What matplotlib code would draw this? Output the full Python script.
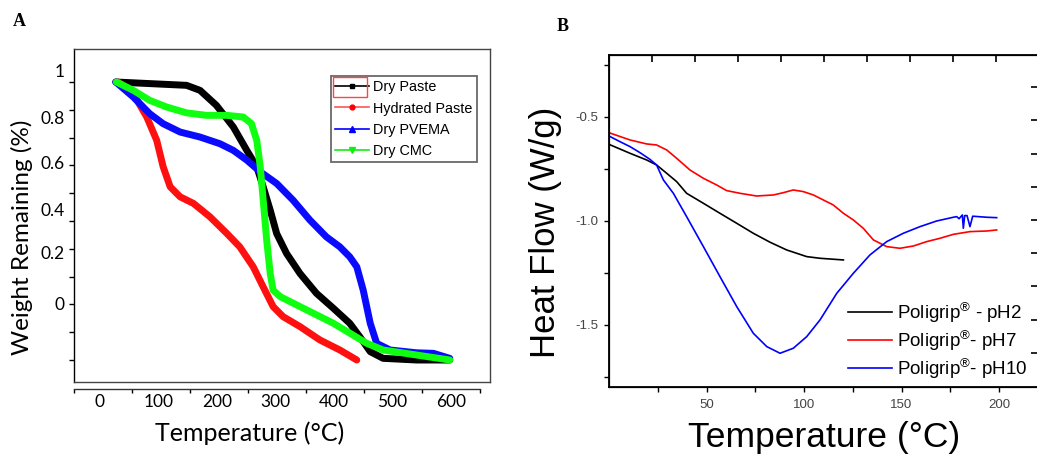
import numpy as np
import matplotlib
matplotlib.use("Agg")
import matplotlib.pyplot as plt
from matplotlib.patches import Rectangle
from matplotlib.lines import Line2D

plt.rcParams['mathtext.fontset'] = 'custom'
plt.rcParams['mathtext.rm'] = 'Liberation Sans'
plt.rcParams['mathtext.it'] = 'Liberation Sans'

# ---------------- Panel A: TGA ----------------
dry_paste_t = [27, 148, 171, 199, 228, 251, 268, 279, 291, 302, 319, 342, 370, 399, 427, 444, 462, 484, 541, 598]
dry_paste_w = [1.0, 0.988, 0.97, 0.916, 0.838, 0.754, 0.695, 0.623, 0.539, 0.455, 0.383, 0.311, 0.240, 0.186,
               0.132, 0.084, 0.030, 0.006, 0.0, 0.0]

hydrated_t = [31, 57, 80, 97, 108, 120, 137, 160, 188, 217, 239, 262, 279, 296, 313, 342, 376, 410, 439]
hydrated_w = [1.0, 0.958, 0.874, 0.79, 0.695, 0.623, 0.587, 0.563, 0.515, 0.455, 0.407, 0.335, 0.263, 0.192,
              0.156, 0.120, 0.072, 0.036, 0.0]

pvema_t = [27, 57, 85, 108, 137, 171, 205, 228, 251, 274, 302, 330, 359, 387, 410, 427, 439, 450, 462, 473,
           496, 541, 570, 598]
pvema_w = [1.0, 0.946, 0.886, 0.85, 0.82, 0.802, 0.778, 0.754, 0.719, 0.677, 0.635, 0.575, 0.503, 0.443,
           0.407, 0.371, 0.335, 0.251, 0.132, 0.06, 0.036, 0.026, 0.024, 0.006]

cmc_t = [28, 57, 85, 114, 148, 182, 217, 245, 259, 268, 274, 279, 285, 291, 296, 308, 342, 399, 456, 484, 541, 598]
cmc_w = [1.0, 0.97, 0.934, 0.91, 0.889, 0.880, 0.880, 0.874, 0.850, 0.790, 0.695, 0.575, 0.431, 0.311, 0.251,
         0.228, 0.192, 0.132, 0.06, 0.036, 0.018, 0.0]

a_legend = ['Dry Paste', 'Hydrated Paste', 'Dry PVEMA', 'Dry CMC']
a_ytick_labels = ['1', '0.8', '0.6', '0.4', '0.2', '0']
a_ytick_pos = [1.043, 0.874, 0.709, 0.540, 0.385, 0.205]
a_xtick_labels = ['0', '100', '200', '300', '400', '500', '600']

# ---------------- Panel B: DSC ----------------
ph2_t = [0, 10.8, 19.3, 24.4, 29.6, 34.7, 39.8, 48.4, 56.9, 65.5, 74, 82.6, 91.1, 101.4, 108.2, 120.2]
ph2_hf = [-0.633, -0.676, -0.708, -0.732, -0.772, -0.812, -0.868, -0.916, -0.964, -1.012, -1.06, -1.103,
          -1.14, -1.172, -1.18, -1.188]

ph7_t = [0, 10.8, 19.3, 24.4, 29.6, 34.7, 41.5, 48.4, 55.2, 60.3, 67.2, 75.7, 84.3, 89.4, 94.5, 99.7, 104.8,
         109.9, 115, 120.2, 125.3, 130.4, 135.6, 142.4, 149.2, 156.1, 162.9, 169.7, 176.6, 185.1, 193.7, 198.8]
ph7_hf = [-0.577, -0.612, -0.631, -0.636, -0.66, -0.7, -0.756, -0.796, -0.828, -0.855, -0.868, -0.881, -0.876,
          -0.865, -0.852, -0.86, -0.876, -0.9, -0.924, -0.964, -0.996, -1.036, -1.092, -1.124, -1.132, -1.121,
          -1.1, -1.084, -1.065, -1.052, -1.049, -1.044]

ph10_t = [0, 5.6, 10.8, 15.9, 21, 24.4, 27.9, 33, 39.8, 48.4, 56.9, 65.5, 74, 80.9, 87.7, 94.5, 101.4, 108.2,
          116.8, 125.3, 133.8, 142.4, 150.9, 159.5, 168, 176.6, 178.3, 179.5, 181.2, 181.7, 182.4, 183.6, 185.1,
          186.5, 193.7, 198.8]
ph10_hf = [-0.593, -0.62, -0.644, -0.673, -0.705, -0.732, -0.804, -0.868, -0.98, -1.124, -1.268, -1.412, -1.54,
           -1.604, -1.636, -1.612, -1.556, -1.476, -1.348, -1.252, -1.164, -1.1, -1.06, -1.028, -1.001, -0.983,
           -0.98, -0.99, -0.972, -1.036, -0.975, -0.975, -1.028, -0.978, -0.983, -0.985]

b_legend = [r'Poligrip$^{\circledR}$ - pH2', r'Poligrip$^{\circledR}$- pH7', r'Poligrip$^{\circledR}$- pH10']

W, H = 1037, 455
fig = plt.figure(figsize=(W / 100, H / 100), dpi=100)


def fx(px):
    return px / W


def fy(py):
    return 1 - py / H


calibri = ['Lato', 'DejaVu Sans']
arial = ['Liberation Sans', 'DejaVu Sans']

# ---- Panel A main axes ----
axA = fig.add_axes([fx(74), fy(382), fx(490) - fx(74), fy(49) - fy(382)])
axA.plot(dry_paste_t, dry_paste_w, color='black', lw=5, solid_capstyle='round')
axA.plot(hydrated_t, hydrated_w, color='#ff1010', lw=5, solid_capstyle='round')
axA.plot(pvema_t, pvema_w, color='#0a0aff', lw=5, solid_capstyle='round')
axA.plot(cmc_t, cmc_w, color='#10ff10', lw=5, solid_capstyle='round')
axA.set_xlim(-44.4, 666.7)
axA.set_ylim(-0.0791, 1.1187)
axA.set_xticks([])
axA.set_yticks(a_ytick_pos)
axA.set_yticklabels(a_ytick_labels, fontsize=12.5, family=calibri)
axA.tick_params(axis='y', which='major', length=0, pad=6.5)
axA.set_yticks(np.arange(0, 1.01, 0.1), minor=True)
axA.tick_params(axis='y', which='minor', length=3.5, width=1, direction='out')
for s in axA.spines.values():
    s.set_color('#444444')
    s.set_linewidth(1.0)
axA.spines['left'].set_color('black')

handles = [
    Line2D([], [], color='black', lw=1.2, marker='s', markersize=3.5),
    Line2D([], [], color='#ff5555', lw=1.2, marker='o', markersize=3.5, markerfacecolor='red', markeredgecolor='red'),
    Line2D([], [], color='blue', lw=1.2, marker='^', markersize=4),
    Line2D([], [], color='#11ee11', lw=1.2, marker='v', markersize=4),
]
legA = axA.legend(handles, a_legend,
                  loc='upper left', bbox_to_anchor=(0.618, 0.919), borderaxespad=0,
                  prop={'family': arial, 'size': 10.4}, handlelength=2.35, handletextpad=0.25,
                  labelspacing=0.5, borderpad=0.3, fancybox=False, frameon=True)
legA.get_frame().set_edgecolor('#444444')
legA.get_frame().set_linewidth(1.3)
fig.patches.append(Rectangle((fx(333), fy(97)), fx(367) - fx(333), fy(77) - fy(97),
                             transform=fig.transFigure, fill=False, edgecolor='#ff4444', lw=1.0))

# ---- Panel A separate bottom axis ----
axAb = fig.add_axes([fx(74), fy(389), fx(480) - fx(74), 0.0001])
axAb.set_xlim(-44.4, 649.6)
axAb.set_ylim(0, 1)
for side in ['top', 'left', 'right']:
    axAb.spines[side].set_visible(False)
axAb.spines['bottom'].set_linewidth(1.0)
axAb.spines['bottom'].set_color('#333333')
axAb.set_yticks([])
axAb.set_xticks([0, 100, 200, 300, 400, 500, 600])
axAb.set_xticklabels(a_xtick_labels, fontsize=12.5, family=calibri)
axAb.tick_params(axis='x', which='major', length=0, pad=3.5)
axAb.set_xticks(np.linspace(-44.4, 649.6, 8), minor=True)
axAb.tick_params(axis='x', which='minor', length=3, width=1, direction='out')
axAb.patch.set_visible(False)

fig.text(fx(22), fy(237), 'Weight Remaining (%)', rotation=90, ha='center', va='center',
         fontsize=17.5, family=calibri)
fig.text(fx(250), fy(433), 'Temperature (°C)', ha='center', va='center', fontsize=18, family=calibri)
fig.text(fx(19), fy(21.5), 'A', ha='center', va='center', fontsize=13, fontweight='bold',
         family=['Liberation Serif'])

# ---- Panel B ----
axB = fig.add_axes([fx(609), fy(387), fx(1039) - fx(609), fy(55) - fy(387)])
axB.plot(ph2_t, ph2_hf, color='black', lw=1.2, label=b_legend[0])
axB.plot(ph7_t, ph7_hf, color='#ff0000', lw=1.2, label=b_legend[1])
axB.plot(ph10_t, ph10_hf, color='#0000ff', lw=1.2, label=b_legend[2])
axB.set_xlim(0, 220.5)
axB.set_ylim(-1.798, -0.204)
axB.set_xticks([50, 100, 150, 200])
axB.set_xticks([25, 75, 125, 175], minor=True)
axB.set_yticks([-0.5, -1.0, -1.5])
axB.set_yticklabels(['-0.5', '-1.0', '-1.5'])
axB.set_yticks([-0.25, -0.75, -1.25, -1.75], minor=True)
axB.tick_params(axis='both', which='both', direction='out', length=3.5, width=1, labelsize=9.5,
                labelcolor='#444444', pad=4)
axB.tick_params(axis='x', which='major', pad=5)
for lab in axB.get_xticklabels() + axB.get_yticklabels():
    lab.set_family(arial)
for s in axB.spines.values():
    s.set_linewidth(1.3)

# top and right tick-only twin axes
axBt = axB.twiny()
axBt.set_xlim(0, 10)
axBt.set_xticks(np.arange(0, 11))
axBt.tick_params(axis='x', direction='in', length=5, width=1.2, labeltop=False)
axBr = axB.twinx()
axBr.set_ylim(-1.03, 8.97)
axBr.set_yticks(np.arange(0, 9))
axBr.tick_params(axis='y', direction='in', length=6, width=1.2, labelright=False)

legB = axB.legend(loc='upper left', bbox_to_anchor=(0.539, 0.282), borderaxespad=0, frameon=False,
                  prop={'family': arial, 'size': 13.5}, handlelength=2.35, handletextpad=0.27,
                  labelspacing=0.2)

fig.text(fx(545), fy(232), 'Heat Flow (W/g)', rotation=90, ha='center', va='center', fontsize=25,
         family=arial)
fig.text(fx(824), fy(437), 'Temperature (°C)', ha='center', va='center', fontsize=25.5, family=arial)
fig.text(fx(563), fy(26.5), 'B', ha='center', va='center', fontsize=13, fontweight='bold',
         family=['Liberation Serif'])

fig.savefig('out.png', dpi=100)
